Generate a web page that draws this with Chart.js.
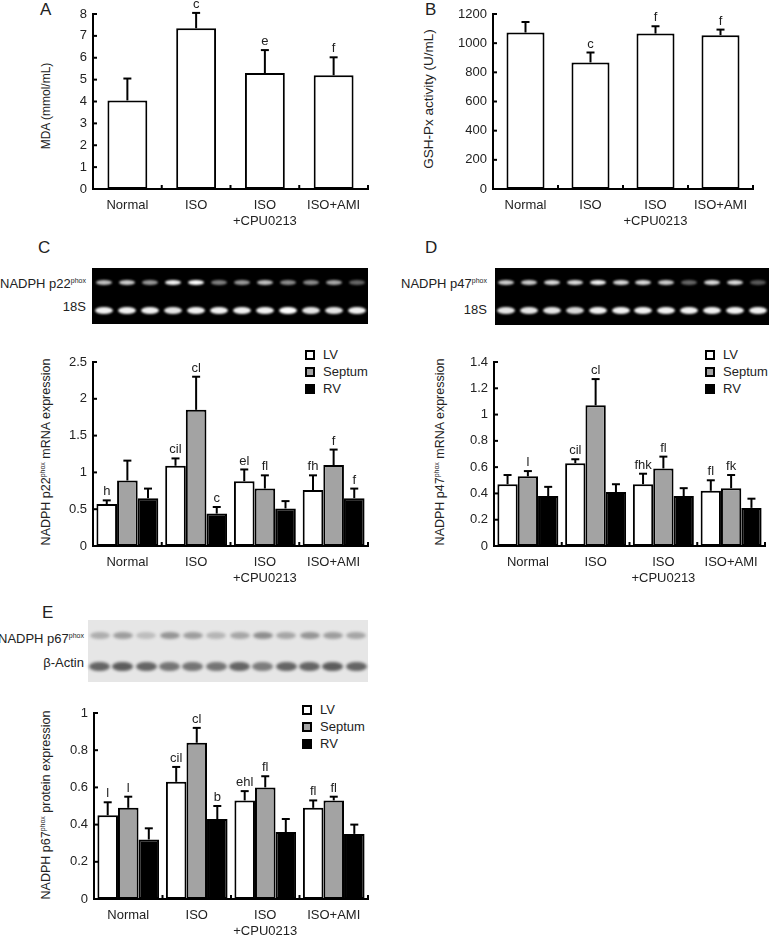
<!DOCTYPE html>
<html>
<head>
<meta charset="utf-8">
<script src="https://cdn.jsdelivr.net/npm/chart.js@4.4.0/dist/chart.umd.min.js"></script>
<style>
  body { margin: 0; background: #fff; width: 769px; height: 938px; position: relative; overflow: hidden;
         font-family: 'Liberation Sans', Arial, sans-serif; color: #222; }
  canvas { position: absolute; }
  .letter { position: absolute; font-size: 17px; }
  .ytitle { position: absolute; transform: translate(-50%, -50%) rotate(-90deg); white-space: nowrap; font-size: 12px; }
  .ytitle sup, .blot-label sup { font-size: 7px; vertical-align: 5px; }
  .blot-label { position: absolute; transform: translate(-100%, -50%); white-space: nowrap; font-size: 13px; }
  .blot { position: absolute; display: flex; flex-direction: column; }
  .blot .row { flex: 1; display: flex; justify-content: space-around; align-items: center; }
  .blot .band { border-radius: 50%; }
  .legend { position: absolute; font-size: 13px; line-height: 17px; }
  .legend .item { display: flex; align-items: center; }
  .legend .sw { width: 6px; height: 6px; border: 2px solid #000; margin-right: 8px; }
</style>
</head>
<body>

<div class="letter" style="left:40px;top:0px">A</div>
<div class="letter" style="left:425px;top:0px">B</div>
<div class="letter" style="left:38px;top:238px">C</div>
<div class="letter" style="left:425px;top:238px">D</div>
<div class="letter" style="left:42px;top:603px">E</div>

<div class="ytitle" style="left:46px;top:106px">MDA (mmol/mL)</div>
<div class="ytitle" style="left:428px;top:99px;font-size:13.5px">GSH-Px activity (U/mL)</div>
<div class="ytitle" style="left:46px;top:452px;font-size:12.5px">NADPH p22<sup>phox</sup> mRNA expression</div>
<div class="ytitle" style="left:440px;top:452px;font-size:12.5px">NADPH p47<sup>phox</sup> mRNA expression</div>
<div class="ytitle" style="left:46px;top:805px;font-size:12.5px">NADPH p67<sup>phox</sup> protein expression</div>

<div class="blot-label" style="left:86px;top:283px">NADPH p22<sup>phox</sup></div>
<div class="blot-label" style="left:86px;top:306px">18S</div>
<div class="blot-label" style="left:487px;top:283px">NADPH p47<sup>phox</sup></div>
<div class="blot-label" style="left:487px;top:309px">18S</div>
<div class="blot-label" style="left:84px;top:638px">NADPH p67<sup>phox</sup></div>
<div class="blot-label" style="left:84px;top:662px">β-Actin</div>

<div class="blot" id="blotC" style="left:92px;top:268px;width:276px;height:56px;background:#000"></div>
<div class="blot" id="blotD" style="left:495px;top:268px;width:274px;height:57px;background:#000"></div>
<div class="blot" id="blotE" style="left:88px;top:620px;width:280px;height:62px;background:#e6e6e6"></div>

<div class="legend" id="legC" style="left:305px;top:346px"></div>
<div class="legend" id="legD" style="left:705px;top:346px"></div>
<div class="legend" id="legE" style="left:302px;top:701px"></div>

<canvas id="chartA"></canvas>
<canvas id="chartB"></canvas>
<canvas id="chartC"></canvas>
<canvas id="chartD"></canvas>
<canvas id="chartE"></canvas>

<script>
Chart.defaults.font.family = "'Liberation Sans', Arial, sans-serif";
Chart.defaults.font.size = 13;
Chart.defaults.color = '#222';

// ---- data ----
const groups = ['Normal', 'ISO', ['ISO', '+CPU0213'], 'ISO+AMI'];
const tissues = ['LV', 'Septum', 'RV'];
const tissueColors = ['#ffffff', '#a3a3a3', '#000000'];

const mdaMean = [4.05, 7.35, 5.3, 5.2];
const mdaErr = [5.05, 8.05, 6.35, 6.02];
const mdaSig = ['', 'c', 'e', 'f'];

const gshMean = [1073, 868, 1066, 1055];
const gshErr = [1145, 936, 1116, 1093];
const gshSig = ['', 'c', 'f', 'f'];

// rows: LV, Septum, RV
const p22Mean = [[0.57, 1.09, 0.88, 0.76], [0.89, 1.85, 0.78, 1.10], [0.65, 0.44, 0.51, 0.65]];
const p22Err  = [[0.62, 1.19, 1.04, 0.96], [1.16, 2.30, 0.96, 1.31], [0.78, 0.53, 0.61, 0.78]];
const p22Sig  = [['h', 'cil', 'el', 'fh'], ['', 'cl', 'fl', 'f'], ['', 'c', '', 'f']];

const p47Mean = [[0.47, 0.63, 0.47, 0.42], [0.53, 1.07, 0.59, 0.44], [0.38, 0.41, 0.38, 0.29]];
const p47Err  = [[0.54, 0.66, 0.55, 0.50], [0.57, 1.27, 0.68, 0.54], [0.45, 0.47, 0.44, 0.36]];
const p47Sig  = [['', 'cil', 'fhk', 'fl'], ['l', 'cl', 'fl', 'fk'], ['', '', '', '']];

const p67Mean = [[0.45, 0.63, 0.53, 0.49], [0.49, 0.84, 0.60, 0.53], [0.32, 0.43, 0.36, 0.35]];
const p67Err  = [[0.52, 0.71, 0.58, 0.53], [0.55, 0.92, 0.66, 0.55], [0.38, 0.50, 0.43, 0.40]];
const p67Sig  = [['l', 'cil', 'ehl', 'fl'], ['l', 'cl', 'fl', 'fl'], ['', 'b', '', '']];

// blot band intensities (12 lanes)
const blotC = [[0.75, 0.8, 0.6, 0.95, 1.0, 0.5, 0.6, 0.75, 0.55, 0.55, 0.65, 0.4],
               [0.95, 0.95, 0.95, 0.9, 0.95, 0.95, 0.95, 0.95, 1.0, 0.9, 0.9, 0.95]];
const blotD = [[0.8, 0.8, 0.85, 0.85, 0.95, 0.85, 0.85, 0.8, 0.4, 0.85, 0.85, 0.35],
               [0.9, 0.9, 0.9, 0.85, 0.95, 0.95, 0.95, 0.95, 0.95, 0.95, 0.95, 0.95]];
const blotE = [[0.35, 0.45, 0.25, 0.5, 0.45, 0.3, 0.4, 0.55, 0.4, 0.5, 0.45, 0.4],
               [0.8, 0.85, 0.8, 0.7, 0.7, 0.7, 0.8, 0.65, 0.8, 0.8, 0.85, 0.8]];

// ---- error bars, significance letters, inward ticks ----
const decor = {
  id: 'decor',
  afterDatasetsDraw(chart) {
    const { ctx, chartArea: a, scales: { y } } = chart;
    const line = (x1, y1, x2, y2) => { ctx.beginPath(); ctx.moveTo(x1, y1); ctx.lineTo(x2, y2); ctx.stroke(); };
    ctx.save();
    ctx.strokeStyle = '#000';
    ctx.lineWidth = 2;
    y.ticks.forEach(t => { const py = y.getPixelForValue(t.value); line(a.left, py, a.left + 4, py); });
    const n = chart.data.labels.length, w = (a.right - a.left) / n;
    for (let i = 1; i <= n; i++) line(a.left + i * w, a.bottom, a.left + i * w, a.bottom - 4);
    ctx.fillStyle = '#222';
    ctx.font = "13px 'Liberation Sans', Arial, sans-serif";
    ctx.textAlign = 'center';
    ctx.textBaseline = 'bottom';
    chart.data.datasets.forEach((ds, i) => {
      chart.getDatasetMeta(i).data.forEach((bar, j) => {
        const top = y.getPixelForValue(ds.errTop[j]);
        line(bar.x, bar.y, bar.x, top);
        line(bar.x - 4, top, bar.x + 4, top);
        if (ds.sig[j]) ctx.fillText(ds.sig[j], bar.x, top - 2);
      });
    });
    ctx.restore();
  }
};

function barChart(id, box, area, yMax, yStep, datasets) {
  const cv = document.getElementById(id);
  cv.width = box.w; cv.height = box.h;
  cv.style.left = box.l + 'px'; cv.style.top = box.t + 'px';
  return new Chart(cv, {
    type: 'bar',
    data: { labels: groups, datasets },
    options: {
      responsive: false,
      animation: false,
      events: [],
      layout: { padding: { left: 0, bottom: 0, top: area.t - box.t, right: box.l + box.w - area.r } },
      plugins: { legend: { display: false }, tooltip: { enabled: false } },
      scales: {
        x: {
          grid: { display: false, drawTicks: false },
          border: { color: '#000', width: 2 },
          ticks: { padding: 9, maxRotation: 0, autoSkip: false },
          afterFit: s => { s.height = box.t + box.h - area.b; }
        },
        y: {
          min: 0, max: yMax,
          grid: { display: false, drawTicks: false },
          border: { color: '#000', width: 2 },
          ticks: { stepSize: yStep, padding: 6, callback: v => String(+v.toFixed(2)) },
          afterFit: s => { s.width = area.l - box.l; }
        }
      }
    },
    plugins: [decor]
  });
}

const single = (mean, err, sig, pct) => [{
  data: mean, errTop: err, sig,
  backgroundColor: '#fff', borderColor: '#000', borderWidth: 2, borderSkipped: false,
  barPercentage: pct, categoryPercentage: 1
}];
const grouped = (mean, err, sig) => tissues.map((t, i) => ({
  label: t, data: mean[i], errTop: err[i], sig: sig[i],
  backgroundColor: tissueColors[i], borderColor: '#000', borderWidth: 2, borderSkipped: false,
  barPercentage: 1, categoryPercentage: 0.9
}));

barChart('chartA', { l: 0, t: 0, w: 385, h: 240 }, { l: 93, t: 14, r: 368, b: 189 }, 8, 1, single(mdaMean, mdaErr, mdaSig, 0.58));
barChart('chartB', { l: 385, t: 0, w: 384, h: 240 }, { l: 493, t: 14, r: 753, b: 189 }, 1200, 200, single(gshMean, gshErr, gshSig, 0.585));
barChart('chartC', { l: 0, t: 335, w: 385, h: 260 }, { l: 93, t: 362, r: 368, b: 546 }, 2.5, 0.5, grouped(p22Mean, p22Err, p22Sig));
barChart('chartD', { l: 385, t: 335, w: 384, h: 260 }, { l: 494, t: 362, r: 765, b: 546 }, 1.4, 0.2, grouped(p47Mean, p47Err, p47Sig));
barChart('chartE', { l: 0, t: 690, w: 385, h: 248 }, { l: 94, t: 713, r: 368, b: 899 }, 1, 0.2, grouped(p67Mean, p67Err, p67Sig));

// ---- legends ----
['legC', 'legD', 'legE'].forEach(id => {
  document.getElementById(id).innerHTML = tissues.map((t, i) =>
    `<div class="item"><span class="sw" style="background:${tissueColors[i]}"></span>${t}</div>`).join('');
});

// ---- gel / blot strips ----
function drawBlot(id, rows, color, sizes, blur) {
  document.getElementById(id).innerHTML = rows.map((r, k) => `<div class="row">${r.map(v =>
    `<span class="band" style="background:${color};opacity:${v};width:${sizes[k][0]}px;height:${sizes[k][1]}px;filter:blur(${blur}px)"></span>`).join('')}</div>`).join('');
}
drawBlot('blotC', blotC, '#fff', [[16, 5], [18, 7]], 0.9);
drawBlot('blotD', blotD, '#fff', [[16, 5], [18, 7]], 0.9);
drawBlot('blotE', blotE, '#444', [[20, 7], [21, 9]], 1.5);
</script>
</body>
</html>
